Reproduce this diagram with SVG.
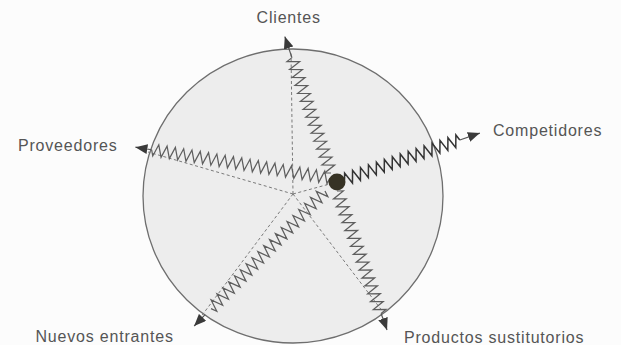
<svg xmlns="http://www.w3.org/2000/svg" width="621" height="345" viewBox="0 0 621 345">
<defs>
<marker id="ah" markerUnits="userSpaceOnUse" markerWidth="13" markerHeight="10" refX="12" refY="5" orient="auto"><path d="M0,0 L12,5 L0,10 z" fill="#3a3a3a"/></marker>
</defs>
<style>
.lbl{font-family:"Liberation Sans",Arial,sans-serif;font-size:16px;letter-spacing:0.8px;fill:#555}
.zz{fill:none;stroke:#5e5e5e;stroke-width:1.25}
.zzd{fill:none;stroke:#333;stroke-width:1.5}
.ln{fill:none;stroke:#555;stroke-width:1.2;marker-end:url(#ah)}
.dash{fill:none;stroke:#7a7a7a;stroke-width:1;stroke-dasharray:3 2.5}
</style>
<rect width="621" height="345" fill="#fcfcfc"/>
<g id="circle"><ellipse cx="293" cy="196" rx="150" ry="147" fill="#ededed" stroke="#6e6e6e" stroke-width="1.3"/></g>
<g id="connectors">
<g id="dashed">
<path class="dash" d="M293,194 L291,52"/>
<path class="dash" d="M293,194 L148,152"/>
<path class="dash" d="M293,194 L383,312"/>
<path class="dash" d="M293,194 L200,318"/>
<path class="dash" d="M293,194 L337,182"/>
</g>
<g id="c-clientes" transform="translate(331,173) rotate(-108.7)">
<path class="zz" d="M0,0 l2.1,-6 l4.2,12 l4.2,-12 l4.2,12 l4.2,-12 l4.2,12 l4.2,-12 l4.2,12 l4.2,-12 l4.2,12 l4.2,-12 l4.2,12 l4.2,-12 l4.2,12 l4.2,-12 l4.2,12 l4.2,-12 l4.2,12 l4.2,-12 l4.2,12 l4.2,-12 l4.2,12 l4.2,-12 l4.2,12 l4.2,-12 l4.2,12 l4.2,-12 l4.2,12 l4.2,-12 l2.1,6"/>
<path class="ln" d="M121.8,0 H144"/>
</g>
<g id="c-competidores" transform="translate(337,182) rotate(-18.9)">
<path class="zzd" d="M8,0 l2.1,-6 l4.2,12 l4.2,-12 l4.2,12 l4.2,-12 l4.2,12 l4.2,-12 l4.2,12 l4.2,-12 l4.2,12 l4.2,-12 l4.2,12 l4.2,-12 l4.2,12 l4.2,-12 l4.2,12 l4.2,-12 l4.2,12 l4.2,-12 l4.2,12 l4.2,-12 l4.2,12 l4.2,-12 l4.2,12 l4.2,-12 l4.2,12 l4.2,-12 l4.2,12 l4.2,-12 l2.1,6"/>
<path class="ln" d="M129.8,0 H151"/>
</g>
<g id="c-proveedores" transform="translate(330,178) rotate(189)">
<path class="zz" d="M0,0 l2.1,-6 l4.2,12 l4.2,-12 l4.2,12 l4.2,-12 l4.2,12 l4.2,-12 l4.2,12 l4.2,-12 l4.2,12 l4.2,-12 l4.2,12 l4.2,-12 l4.2,12 l4.2,-12 l4.2,12 l4.2,-12 l4.2,12 l4.2,-12 l4.2,12 l4.2,-12 l4.2,12 l4.2,-12 l4.2,12 l4.2,-12 l4.2,12 l4.2,-12 l4.2,12 l4.2,-12 l4.2,12 l4.2,-12 l4.2,12 l4.2,-12 l4.2,12 l4.2,-12 l4.2,12 l4.2,-12 l4.2,12 l4.2,-12 l4.2,12 l4.2,-12 l4.2,12 l4.2,-12 l2.1,6"/>
<path class="ln" d="M180.6,0 H197"/>
</g>
<g id="c-nuevos" transform="translate(325,191) rotate(134.1)">
<path class="zz" d="M0,0 l2.1,-6 l4.2,12 l4.2,-12 l4.2,12 l4.2,-12 l4.2,12 l4.2,-12 l4.2,12 l4.2,-12 l4.2,12 l4.2,-12 l4.2,12 l4.2,-12 l4.2,12 l4.2,-12 l4.2,12 l4.2,-12 l4.2,12 l4.2,-12 l4.2,12 l4.2,-12 l4.2,12 l4.2,-12 l4.2,12 l4.2,-12 l4.2,12 l4.2,-12 l4.2,12 l4.2,-12 l4.2,12 l4.2,-12 l4.2,12 l4.2,-12 l4.2,12 l4.2,-12 l4.2,12 l4.2,-12 l4.2,12 l4.2,-12 l2.1,6"/>
<path class="ln" d="M172.2,0 H188"/>
</g>
<g id="c-productos" transform="translate(337,191) rotate(70.2)">
<path class="zz" d="M0,0 l2.1,-6 l4.2,12 l4.2,-12 l4.2,12 l4.2,-12 l4.2,12 l4.2,-12 l4.2,12 l4.2,-12 l4.2,12 l4.2,-12 l4.2,12 l4.2,-12 l4.2,12 l4.2,-12 l4.2,12 l4.2,-12 l4.2,12 l4.2,-12 l4.2,12 l4.2,-12 l4.2,12 l4.2,-12 l4.2,12 l4.2,-12 l4.2,12 l4.2,-12 l4.2,12 l4.2,-12 l4.2,12 l4.2,-12 l2.1,6"/>
<path class="ln" d="M130.2,0 H147.7"/>
</g>
</g>
<g id="firm"><circle cx="337" cy="182" r="8.5" fill="#363224"/></g>
<g id="n-clientes"><text class="lbl" x="256.6" y="22.5">Clientes</text></g>
<g id="n-competidores"><text class="lbl" x="493" y="136">Competidores</text></g>
<g id="n-proveedores"><text class="lbl" x="18" y="151">Proveedores</text></g>
<g id="n-nuevos"><text class="lbl" x="35.5" y="341.5">Nuevos entrantes</text></g>
<g id="n-productos"><text class="lbl" x="404" y="343">Productos sustitutorios</text></g>
</svg>
